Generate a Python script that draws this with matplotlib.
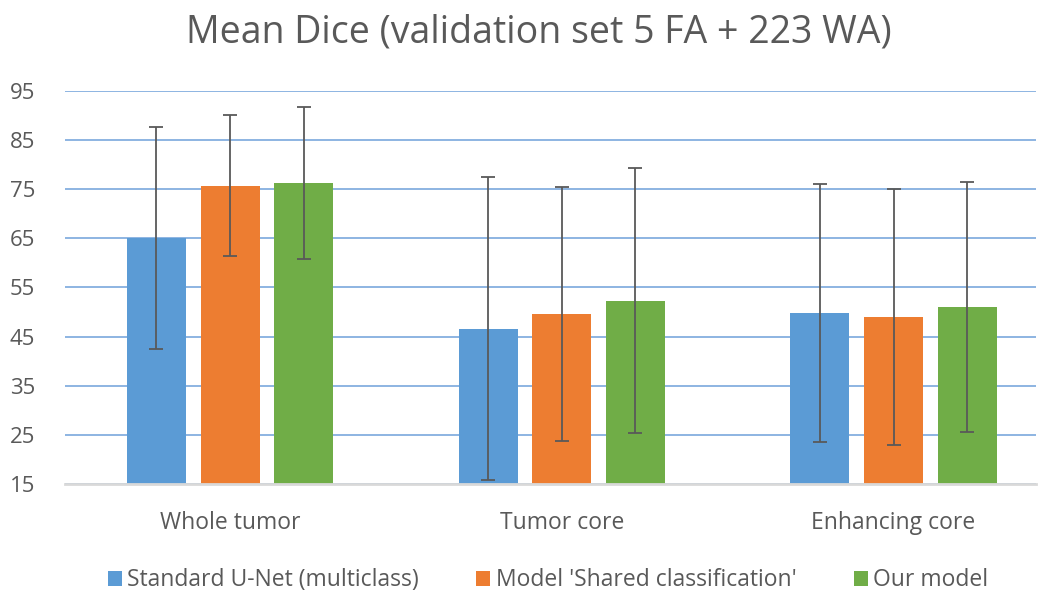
import numpy as np
import matplotlib.pyplot as plt

categories = ["Whole tumor", "Tumor core", "Enhancing core"]
series = ["Standard U-Net (multiclass)", "Model 'Shared classification'", "Our model"]
means = [
    [65.1, 46.6, 49.8],
    [75.7, 49.6, 49.0],
    [76.2, 52.3, 51.1],
]
stds = [
    [22.6, 30.8, 26.2],
    [14.3, 25.8, 26.0],
    [15.4, 26.9, 25.4],
]
colors = ["#5B9BD5", "#ED7D31", "#70AD47"]
yticks = [15, 25, 35, 45, 55, 65, 75, 85, 95]

plt.rcParams["font.family"] = ["Open Sans", "DejaVu Sans"]

fig = plt.figure(figsize=(10.46, 5.97), dpi=100)
ax = fig.add_axes([0.062, 0.189, 0.928, 0.659])

x = np.arange(len(categories))
width = 0.178
step = 0.222
for i, name in enumerate(series):
    ax.bar(x + (i - 1) * step, means[i], width, bottom=0, color=colors[i],
           label=name, zorder=2,
           yerr=stds[i], error_kw=dict(ecolor="#595959", elinewidth=1.3,
                                       capsize=5, capthick=1.3, zorder=3))

ax.set_ylim(15, 95)
ax.set_xlim(-0.498, 2.428)
ax.set_yticks(yticks)
ax.set_xticks(x)
ax.set_xticklabels(categories)
ax.tick_params(axis="both", length=0, colors="#595959")
ax.tick_params(axis="x", pad=19, labelsize=16.5)
ax.tick_params(axis="y", pad=39.5, labelsize=16)
for lab in ax.get_yticklabels():
    lab.set_horizontalalignment("left")

ax.yaxis.grid(True, color="#8DB4E2", linewidth=1.4, zorder=0)
for side in ["top", "right", "left"]:
    ax.spines[side].set_visible(False)
ax.spines["bottom"].set_color("#D9D9D9")
ax.spines["bottom"].set_linewidth(2)

fig.suptitle("Mean Dice (validation set 5 FA + 223 WA)", x=0.515, y=0.978,
             fontsize=27, color="#595959")

fig.legend(loc="lower center", ncol=3, frameon=False, fontsize=16.5,
           handlelength=0.6, handleheight=0.6, handletextpad=0.25,
           columnspacing=2.5, bbox_to_anchor=(0.524, -0.027),
           labelcolor="#595959")

fig.savefig("out.png", dpi=100)
